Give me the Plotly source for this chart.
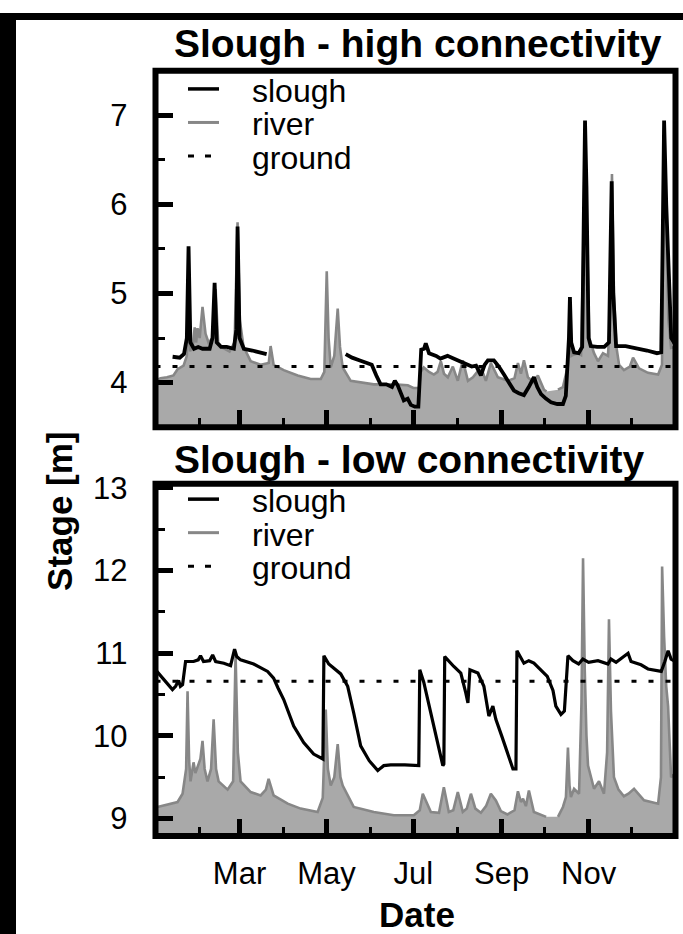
import numpy as np
import pandas as pd
import plotly.graph_objects as go

W, H = 683, 934
YEAR_START = pd.Timestamp("2013-01-01")

# ---------------- data: day of year (from 1 Jan) and stage [m] ----------------
# Slough - high connectivity
high_river_day = [1, 3.5, 8, 12.6, 15.5, 19.7, 22, 23.2, 24.3, 26.5, 27.5, 28.5, 29.5, 31, 33, 35.1,
                  37.2, 40, 42.2, 44, 47.1, 52, 55.5, 57.6, 59.2, 61.8, 66.8, 73.8, 79.5, 80.8, 82.9,
                  90, 99.8, 108.9, 116, 118.5, 120.2, 121.5, 123, 125.5, 127.9, 129.5, 131.4, 137,
                  153.2, 167.3, 177.1, 181, 185, 186.2, 188.3, 192, 195.4, 198, 200.3, 202.5, 205.2,
                  208.7, 212.2, 215.7, 219.3, 222.8, 228.4, 231.9, 235.4, 240.3, 247.4, 252, 254.4,
                  256.5, 258.6, 261.4, 265.6, 268.4, 272.7, 274.5, 278, 282.5, 286, 289.5, 290.9,
                  292, 293, 296.5, 298.7, 300.3, 301.5, 302.7, 304.5, 307.8, 310.6, 314.1, 317.6,
                  319.2, 320.4, 321.8, 323.5, 325.4, 328.8, 333, 335.2, 339.4, 345.7, 352.8, 355.5,
                  357, 358.5, 360, 361.9, 365]
high_river_stage = [4.03, 4.05, 4.06, 4.08, 4.15, 4.19, 4.30, 4.90, 4.35, 4.45, 4.62, 4.45, 4.61, 4.50,
                    4.85, 4.55, 4.45, 4.50, 5.05, 4.45, 4.39, 4.35, 4.45, 5.80, 4.70, 4.40, 4.24,
                    4.20, 4.22, 4.41, 4.20, 4.14, 4.08, 4.04, 4.04, 4.12, 5.25, 4.50, 4.17, 4.30,
                    4.83, 4.40, 4.17, 4.02, 3.98, 3.98, 3.97, 3.94, 3.94, 4.12, 4.17, 4.12, 4.09,
                    4.12, 4.24, 4.10, 4.06, 4.18, 4.02, 4.25, 4.02, 4.06, 4.17, 4.02, 4.22, 4.06,
                    4.02, 4.05, 4.22, 4.10, 4.25, 4.06, 4.00, 4.08, 3.92, 3.90, None, 3.92, 3.95,
                    4.19, 4.55, 4.30, 4.31, 4.33, 4.31, 5.50, 6.85, 5.80, 4.50, 4.33, 4.24, 4.33,
                    4.30, 4.80, 6.34, 5.00, 4.40, 4.20, 4.14, 4.18, 4.28, 4.16, 4.11, 4.09, 4.20,
                    6.85, 5.60, 4.70, 4.39, 4.40]
high_slough_day = [12, 17, 20, 22, 23.2, 24.5, 27, 30, 33, 38, 40, 41.5, 43, 46, 50, 55, 56.8, 57.6,
                   59, 62, 68, 74, 78, 100, 133.5, 138, 143, 148, 151.8, 155, 158, 162, 166, 168,
                   170, 174.3, 177, 179.2, 182, 184.5, 185.5, 186.5, 188.5, 189.7, 192, 197, 200,
                   205, 208, 213, 216, 219, 222, 225, 228.4, 231, 233.3, 237.5, 241, 244.6, 248,
                   251.6, 255, 258.6, 262, 265.6, 268, 270.6, 274, 277.6, 282, 286, 288, 289.5,
                   290.2, 290.9, 291.8, 293.8, 297, 299.5, 300.5, 301.5, 302.5, 304, 305.5, 310,
                   315, 318.3, 319.3, 320.2, 321.3, 323.3, 330, 337, 345, 352, 355, 356, 357,
                   358.5, 360.5, 362, 365]
high_slough_stage = [4.29, 4.28, 4.32, 4.50, 5.53, 4.45, 4.38, 4.40, 4.38, 4.38, 4.50, 5.12, 4.45,
                     4.40, 4.40, 4.38, 4.60, 5.75, 4.50, 4.38, 4.36, 4.34, 4.32, None, 4.32, 4.28,
                     4.25, 4.22, 4.20, 4.08, 3.98, 3.98, 3.95, 4.02, 3.97, 3.80, 3.82, 3.75, 3.73,
                     3.73, 4.20, 4.37, 4.38, 4.44, 4.33, 4.30, 4.27, 4.30, 4.28, 4.24, 4.22, 4.20,
                     4.18, 4.19, 4.08, 4.20, 4.25, 4.25, 4.18, 4.09, 4.00, 3.91, 3.88, 3.86, 3.95,
                     4.06, 3.95, 3.87, 3.82, 3.78, 3.76, 3.76, 3.85, 4.28, 4.50, 4.96, 4.45, 4.34,
                     4.33, 4.40, 6.00, 6.94, 6.20, 4.50, 4.41, 4.40, 4.40, 4.45, 5.40, 6.26, 5.00,
                     4.41, 4.41, 4.39, 4.36, 4.33, 4.34, 5.60, 6.94, 6.00, 5.00, 4.50, 4.42]
high_ground = 4.18

# Slough - low connectivity
low_river_day = [1.4, 6, 10.5, 15.5, 19, 21.5, 22.5, 23.6, 24.6, 26.7, 28, 29.5, 31.5, 33, 34.5, 36.5,
                 39, 40.8, 42.5, 44.3, 50.6, 54.5, 56.2, 57.8, 59.7, 66.8, 73.8, 77.5, 79.4, 82.9,
                 92.8, 101.9, 108, 113.8, 117.4, 119.5, 121, 123, 125.5, 127.9, 129.8, 131.4, 139.1,
                 153.2, 167.3, 181.3, 185.5, 187.6, 193.3, 199, 202.4, 205.9, 209, 212.2, 215.7,
                 218.5, 221.4, 224.5, 228.4, 232, 235.4, 238.9, 242.4, 247, 252, 254.4, 256.5, 258,
                 260, 262.1, 265.6, 270, 272.7, 274.2, 278, 282.5, 286, 288.1, 289.5, 290.6, 291.6,
                 293.8, 297.3, 299, 300.1, 301.3, 302.5, 303.6, 307.8, 311.3, 314.8, 317, 318.3,
                 319.7, 321.8, 325, 328.8, 332, 335.9, 342.9, 348, 352.8, 354.8, 355.6, 357, 358.5,
                 359.8, 361.9, 365]
low_river_stage = [9.14, 9.16, 9.18, 9.20, 9.30, 9.60, 10.54, 9.70, 9.45, 9.68, 9.55, 9.62, 9.72,
                   9.94, 9.60, 9.45, 9.60, 10.20, 9.60, 9.45, 9.35, 9.45, 10.99, 9.80, 9.45, 9.32,
                   9.28, 9.35, 9.48, 9.28, 9.18, 9.12, 9.10, 9.08, 9.25, 10.32, 9.60, 9.40, 9.50,
                   9.90, 9.50, 9.40, 9.14, 9.08, 9.04, 9.04, 9.10, 9.30, 9.08, 9.07, 9.38, 9.08,
                   9.10, 9.32, 9.08, 9.12, 9.30, 9.12, 9.07, 9.15, 9.30, 9.22, 9.09, 9.05, 9.10,
                   9.33, 9.20, 9.24, 9.15, 9.34, 9.08, 9.05, 9.04, 9.02, None, 9.02, 9.14, 9.26,
                   9.86, 9.40, 9.26, 9.36, 9.30, 10.40, 12.15, 10.80, 10.00, 9.64, 9.36, 9.45,
                   9.30, 9.80, 11.41, 10.30, 9.50, 9.35, 9.27, 9.30, 9.36, 9.22, 9.20, 9.18, 9.50,
                   12.05, 11.20, 10.60, 10.36, 9.50, 9.55]
low_slough_day = [0.5, 4, 8.4, 11.9, 14.1, 16.2, 17.5, 19, 21.1, 26.7, 30, 31.6, 33.7, 38, 40.1, 42.2,
                  48, 52.7, 55.5, 57, 59.7, 68.9, 78.7, 82.9, 86, 90, 97, 104, 111, 116.5, 117.5,
                  118.2, 121.6, 130, 134.9, 139.1, 144, 150, 153.2, 156, 158, 160.2, 165.1, 175,
                  184.8, 185.5, 188.3, 193.3, 198.2, 201.7, 202.4, 203, 209.4, 214.3, 217.8, 219.3,
                  220.7, 226.3, 230.5, 234, 236.8, 238.9, 243, 247.4, 250.9, 253, 253.7, 258.6, 262,
                  265.6, 270, 275, 279, 281, 284.6, 287, 289.5, 293, 297, 300, 304, 310.6, 317.6,
                  319.7, 323.3, 331.7, 333.8, 340.8, 345.7, 352.8, 355, 357.5, 359.8, 361.9, 365]
low_slough_stage = [10.79, 10.72, 10.62, 10.56, 10.60, 10.67, 10.60, 10.62, 10.90, 10.90, 10.92,
                    10.97, 10.90, 10.91, 10.98, 10.90, 10.88, 10.85, 11.05, 10.96, 10.92, 10.87,
                    10.78, 10.70, 10.58, 10.44, 10.12, 9.92, 9.78, 9.72, 9.72, 10.97, 10.87, 10.75,
                    10.60, 10.28, 9.88, 9.70, 9.64, 9.58, 9.61, 9.64, 9.65, 9.65, 9.64, 10.80,
                    10.65, 10.26, 9.90, 9.64, 9.66, 10.96, 10.84, 10.76, 10.52, 10.40, 10.80, 10.76,
                    10.60, 10.24, 10.36, 10.20, 10.00, 9.76, 9.60, 9.60, 11.03, 10.88, 10.91, 10.88,
                    10.81, 10.72, 10.55, 10.36, 10.26, 10.30, 10.97, 10.91, 10.87, 10.93, 10.89,
                    10.91, 10.87, 10.93, 10.89, 11.00, 10.90, 10.86, 10.81, 10.79, 10.78, 10.90,
                    11.03, 10.93, 10.90]
low_ground = 10.66

major_months = ["2013-03-01", "2013-05-01", "2013-07-01", "2013-09-01", "2013-11-01"]
major_month_labels = ["Mar", "May", "Jul", "Sep", "Nov"]
minor_months = ["2013-02-01", "2013-04-01", "2013-06-01", "2013-08-01", "2013-10-01", "2013-12-01"]
high_yticks = [4, 5, 6, 7]
high_yminor = [4.5, 5.5, 6.5]
low_yticks = [9, 10, 11, 12, 13]
low_yminor = [9.5, 10.5, 11.5, 12.5]
legend_names = ["slough", "river", "ground"]
panel_titles = ["Slough - high connectivity", "Slough - low connectivity"]


def to_dates(days):
    return YEAR_START + pd.to_timedelta(np.asarray(days, dtype=float), unit="D")


def px_x(px):
    return px / W


def px_y(py):
    return 1 - py / H


FONT = "Liberation Sans, Arial, Helvetica, sans-serif"
RIVER_LINE = "#878787"
RIVER_FILL = "#a9a9a9"

fig = go.Figure()

panels = [
    ("x", "y", high_river_day, high_river_stage, high_slough_day, high_slough_stage, high_ground, 3.8),
    ("x2", "y2", low_river_day, low_river_stage, low_slough_day, low_slough_stage, low_ground, 3.2),
]
for xa, ya, rd, rs, sd, ss, g, sw in panels:
    fig.add_trace(go.Scatter(x=to_dates(rd), y=rs, mode="lines", fill="tozeroy",
                             fillcolor=RIVER_FILL, line=dict(color=RIVER_LINE, width=2.6),
                             connectgaps=False, xaxis=xa, yaxis=ya, showlegend=False,
                             name="river"))
    fig.add_trace(go.Scatter(x=to_dates([0, 365]), y=[g, g], mode="lines",
                             line=dict(color="black", width=3, dash="5px,12px"),
                             xaxis=xa, yaxis=ya, showlegend=False, name="ground"))
    fig.add_trace(go.Scatter(x=to_dates(sd), y=ss, mode="lines", connectgaps=False,
                             line=dict(color="black", width=sw), xaxis=xa, yaxis=ya,
                             showlegend=False, name="slough"))

xdom = [px_x(155.5), px_x(675.5)]
xcommon = dict(domain=xdom, range=["2013-01-01", "2014-01-01"], showgrid=False, zeroline=False,
               showline=False, ticks="inside", ticklen=17, tickwidth=5, tickcolor="black",
               tickvals=major_months, ticktext=major_month_labels,
               minor=dict(tickvals=minor_months, ticks="inside", ticklen=9, tickwidth=3,
                          tickcolor="black", showgrid=False),
               tickfont=dict(family=FONT, size=31, color="black"), ticklabelstandoff=16)
ycommon = dict(showgrid=False, zeroline=False, showline=False, ticks="inside", ticklen=17,
               tickwidth=5, tickcolor="black",
               tickfont=dict(family=FONT, size=31, color="black"), ticklabelstandoff=27)

fig.update_layout(
    width=W, height=H, autosize=False,
    margin=dict(l=0, r=0, t=0, b=0),
    paper_bgcolor="white", plot_bgcolor="white",
    showlegend=False,
    xaxis=dict(**xcommon, anchor="y", showticklabels=False),
    yaxis=dict(**ycommon, domain=[px_y(420), px_y(58.5)], range=[3.5, 7.5], anchor="x",
               tickvals=high_yticks,
               minor=dict(tickvals=high_yminor, ticks="inside", ticklen=9, tickwidth=3,
                          tickcolor="black", showgrid=False)),
    xaxis2=dict(**xcommon, anchor="y2", showticklabels=True),
    yaxis2=dict(**ycommon, domain=[px_y(834.5), px_y(477.5)], range=[8.79, 13.05], anchor="x2",
                tickvals=low_yticks,
                minor=dict(tickvals=low_yminor, ticks="inside", ticklen=9, tickwidth=3,
                           tickcolor="black", showgrid=False)),
)

shapes = []
# panel frames
for xr, yr in [("x domain", "y domain"), ("x2 domain", "y2 domain")]:
    shapes.append(dict(type="rect", xref=xr, yref=yr, x0=0, x1=1, y0=0, y1=1,
                       line=dict(color="black", width=6), layer="above"))
# black border strips of the source image
shapes.append(dict(type="rect", xref="paper", yref="paper", x0=0, x1=px_x(16), y0=0, y1=1,
                   fillcolor="black", line=dict(width=0), layer="above"))
shapes.append(dict(type="rect", xref="paper", yref="paper", x0=0, x1=1, y0=px_y(7), y1=1,
                   fillcolor="black", line=dict(width=0), layer="above"))

annotations = []
# legends (one per panel)
legend_styles = [dict(color="black", width=3.5, dash="solid"),
                 dict(color=RIVER_LINE, width=3, dash="solid"),
                 dict(color="black", width=3, dash="6px,11px")]
for rows in ([77, 111, 145], [493, 527, 561]):
    for name, row, style in zip(legend_names, rows, legend_styles):
        shapes.append(dict(type="line", xref="paper", yref="paper", x0=px_x(188), x1=px_x(219),
                           y0=px_y(row), y1=px_y(row), line=style, layer="above"))
        annotations.append(dict(text=name, xref="paper", yref="paper", x=px_x(250), y=px_y(row + 2),
                                xanchor="left", yanchor="middle", showarrow=False,
                                font=dict(family=FONT, size=32, color="black")))

# panel titles
for title, ypx in zip(panel_titles, [31, 453]):
    annotations.append(dict(text="<b>%s</b>" % title, xref="paper", yref="paper", x=px_x(172),
                            y=px_y(ypx), xanchor="left", yanchor="middle", showarrow=False,
                            font=dict(family=FONT, size=39, color="black")))
# axis titles
annotations.append(dict(text="<b>Stage [m]</b>", xref="paper", yref="paper", x=px_x(60),
                        y=px_y(506), xanchor="center", yanchor="middle", textangle=-90,
                        showarrow=False, font=dict(family=FONT, size=35, color="black")))
annotations.append(dict(text="<b>Date</b>", xref="paper", yref="paper", x=px_x(417),
                        y=px_y(914), xanchor="center", yanchor="middle", showarrow=False,
                        font=dict(family=FONT, size=35, color="black")))

fig.update_layout(shapes=shapes, annotations=annotations)
fig.write_html("out.html", config={"displayModeBar": False},
               post_script="document.body.style.margin='0';document.body.style.padding='0';"
                           "document.documentElement.style.overflow='hidden';")
